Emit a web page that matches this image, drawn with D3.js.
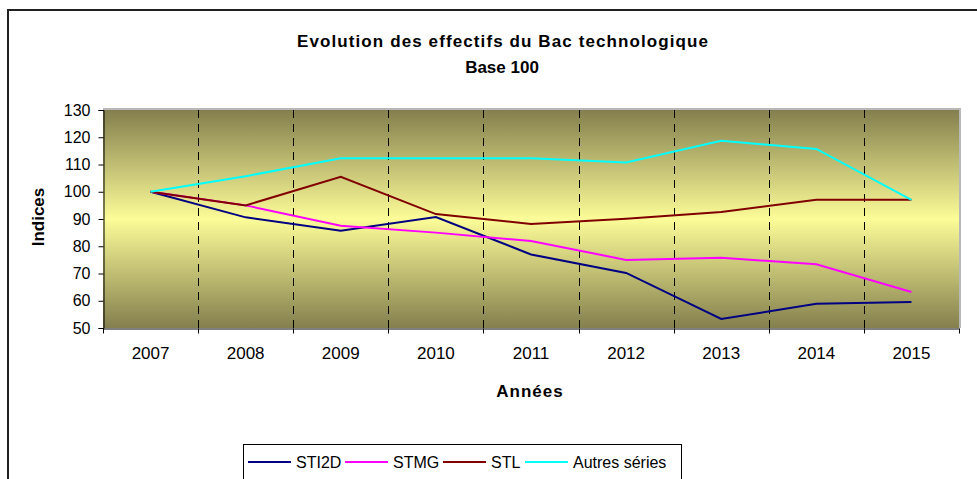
<!DOCTYPE html>
<html>
<head>
<meta charset="utf-8">
<script src="https://cdn.jsdelivr.net/npm/d3@7"></script>
<style>
  body { margin: 0; background: #fff; }
  svg { font-family: "Liberation Sans", Arial, sans-serif; }
</style>
</head>
<body>
<svg id="svg" width="977" height="479"></svg>
<script>
// chart data
var years = ["2007","2008","2009","2010","2011","2012","2013","2014","2015"];
var sti2d = [100, 90.6, 85.7, 90.7, 77, 70.2, 53.3, 58.9, 59.5];
var stmg = [100, 95, 87.5, 85, 81.9, 75, 75.8, 73.4, 63.2];
var stl = [100, 95, 105.5, 91.8, 88.2, 90.1, 92.6, 97.1, 97.1];
var autres = [100, 105.7, 112.3, 112.3, 112.3, 110.7, 118.7, 115.7, 97];
var seriesNames = ["STI2D", "STMG", "STL", "Autres séries"];
var yTicks = [50, 60, 70, 80, 90, 100, 110, 120, 130];

var series = [
  {name: seriesNames[0], values: sti2d, color: "#000080"},
  {name: seriesNames[1], values: stmg, color: "#ff00ff"},
  {name: seriesNames[2], values: stl, color: "#800000"},
  {name: seriesNames[3], values: autres, color: "#00ffff"}
];

var svg = d3.select("#svg");
// plot box (not "top": that name is taken by window.top)
var pLeft = 103, pRight = 959, pTop = 110, pBottom = 328;

// outer frame of the chart
svg.append("rect")
  .attr("x", 8).attr("y", 10)
  .attr("width", 990).attr("height", 490)
  .attr("fill", "none").attr("stroke", "#222").attr("stroke-width", 2);

// background gradient of the plot area
var grad = svg.append("defs").append("linearGradient")
  .attr("id", "bg").attr("x1", 0).attr("y1", 0).attr("x2", 0).attr("y2", 1);
grad.append("stop").attr("offset", "0%").attr("stop-color", "#847f4e");
grad.append("stop").attr("offset", "50%").attr("stop-color", "#fcfc98");
grad.append("stop").attr("offset", "100%").attr("stop-color", "#847f4e");

var x = d3.scaleBand().domain(years).range([pLeft, pRight]);
var y = d3.scaleLinear().domain([50, 130]).range([pBottom, pTop]);

// light grey shadow on top / right
svg.append("rect")
  .attr("x", pLeft).attr("y", pTop - 2)
  .attr("width", pRight - pLeft + 2).attr("height", pBottom - pTop + 2)
  .attr("fill", "#b8b8b8");
svg.append("rect")
  .attr("x", pLeft).attr("y", pTop)
  .attr("width", pRight - pLeft).attr("height", pBottom - pTop)
  .attr("fill", "url(#bg)");

// dashed vertical grid lines between categories
svg.append("g").selectAll("line")
  .data(years.slice(1))
  .enter().append("line")
  .attr("x1", function(d) { return Math.round(x(d)) + 0.5; })
  .attr("x2", function(d) { return Math.round(x(d)) + 0.5; })
  .attr("y1", pTop).attr("y2", pBottom)
  .attr("stroke", "#000").attr("stroke-dasharray", "8,6");

// y axis
var yAxis = svg.append("g")
  .attr("transform", "translate(" + (pLeft + 0.5) + ",0)")
  .call(d3.axisLeft(y).tickValues(yTicks).tickSize(5).tickPadding(8));
yAxis.selectAll("text").attr("font-size", 16).attr("fill", "#000")
  .attr("font-family", "Liberation Sans, Arial, sans-serif");
yAxis.selectAll("line, path").attr("stroke", "#000");

// x axis, ticks sit on the category borders
var xAxis = svg.append("g")
  .attr("transform", "translate(0," + (pBottom + 0.5) + ")")
  .call(d3.axisBottom(x).tickSize(0).tickPadding(18));
xAxis.selectAll("text").attr("font-size", 17).attr("fill", "#000")
  .attr("font-family", "Liberation Sans, Arial, sans-serif");
xAxis.select("path").attr("stroke", "#000");
xAxis.append("g").selectAll("line")
  .data(years.concat(["end"]))
  .enter().append("line")
  .attr("x1", function(d, i) { return Math.round(pLeft + i * x.bandwidth()) + 0.5; })
  .attr("x2", function(d, i) { return Math.round(pLeft + i * x.bandwidth()) + 0.5; })
  .attr("y1", 0).attr("y2", 5)
  .attr("stroke", "#000");

// lines
var line = d3.line()
  .x(function(d, i) { return x(years[i]) + x.bandwidth() / 2; })
  .y(function(d) { return y(d); });

svg.append("g").selectAll("path")
  .data(series)
  .enter().append("path")
  .attr("d", function(d) { return line(d.values); })
  .attr("fill", "none")
  .attr("stroke", function(d) { return d.color; })
  .attr("stroke-width", 2);

// titles
svg.append("text").attr("x", 297).attr("y", 47)
  .attr("font-size", 17).attr("font-weight", "bold")
  .attr("textLength", 411).attr("lengthAdjust", "spacing")
  .text("Evolution des effectifs du Bac technologique");
svg.append("text").attr("x", 502).attr("y", 73)
  .attr("text-anchor", "middle").attr("font-size", 17).attr("font-weight", "bold")
  .text("Base 100");
svg.append("text").attr("x", 530).attr("y", 397)
  .attr("text-anchor", "middle").attr("font-size", 17).attr("font-weight", "bold")
  .attr("letter-spacing", 1)
  .text("Années");
svg.append("text")
  .attr("transform", "translate(44,217) rotate(-90)")
  .attr("text-anchor", "middle").attr("font-size", 17).attr("font-weight", "bold")
  .text("Indices");

// legend
svg.append("rect")
  .attr("x", 243.5).attr("y", 444.5).attr("width", 438).attr("height", 50)
  .attr("fill", "#fff").attr("stroke", "#000");
var legX = [248, 345, 443, 525];
var leg = svg.append("g").selectAll("g")
  .data(series)
  .enter().append("g")
  .attr("transform", function(d, i) { return "translate(" + legX[i] + ",462)"; });
leg.append("line")
  .attr("x1", 0).attr("x2", 43).attr("y1", 0).attr("y2", 0)
  .attr("stroke", function(d) { return d.color; }).attr("stroke-width", 2);
leg.append("text")
  .attr("x", 48).attr("y", 6).attr("font-size", 16)
  .text(function(d) { return d.name; });
</script>
</body>
</html>
